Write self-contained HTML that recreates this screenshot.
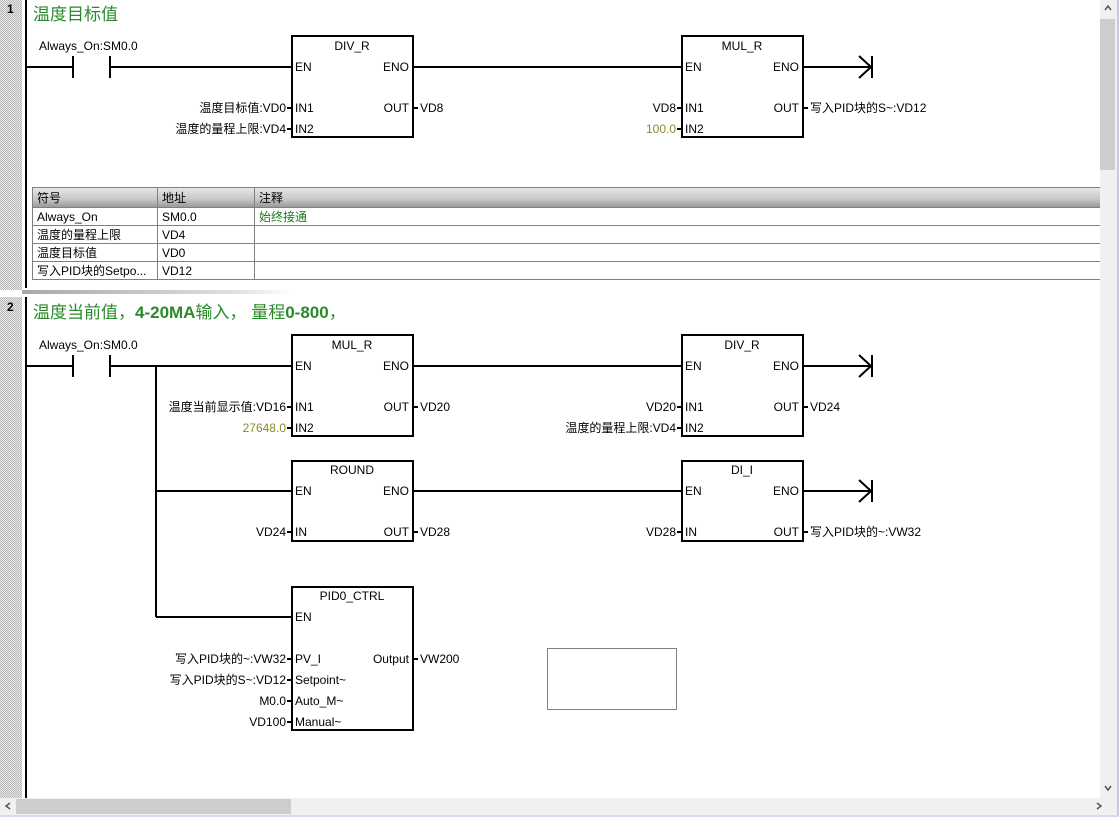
<!DOCTYPE html>
<html><head><meta charset="utf-8">
<style>
html,body{margin:0;padding:0;background:#fff;width:1119px;height:817px;overflow:hidden}
svg{display:block}
text{font-family:"Liberation Sans","Noto Sans CJK SC",sans-serif;font-size:12px;fill:#000}
.t{font-size:17px;fill:#2a8a2a}
.g{fill:#8a8a2a}
.c{fill:#1a7a1a}
.r{text-anchor:end}
.m{text-anchor:middle}
</style></head><body>
<svg width="1119" height="817" viewBox="0 0 1119 817" xmlns="http://www.w3.org/2000/svg">
<defs>
<pattern id="h" width="2" height="2" patternUnits="userSpaceOnUse"><rect width="2" height="2" fill="#e8e8e8"/><rect width="1" height="1" fill="#b8b8b8"/><rect x="1" y="1" width="1" height="1" fill="#b8b8b8"/></pattern>
<linearGradient id="hd" x1="0" y1="0" x2="0" y2="1"><stop offset="0" stop-color="#e8e8e8"/><stop offset="0.6" stop-color="#c8c8c8"/><stop offset="1" stop-color="#9a9a9a"/></linearGradient>
<linearGradient id="sep" x1="0" y1="0" x2="1" y2="0"><stop offset="0" stop-color="#a8a8a8"/><stop offset="0.8" stop-color="#e0e0e0"/><stop offset="1" stop-color="#fff"/></linearGradient>
</defs>
<!-- left strip -->
<rect x="0" y="0" width="22" height="800" fill="url(#h)"/>
<rect x="0" y="290" width="22" height="7" fill="#fff"/>
<rect x="22" y="290" width="270" height="4" fill="url(#sep)"/>
<text x="7" y="13" style="font-weight:bold">1</text>
<text x="7" y="311" style="font-weight:bold">2</text>
<!-- rails -->
<line x1="26" y1="0" x2="26" y2="288" stroke="#000" stroke-width="2"/>
<line x1="26" y1="297" x2="26" y2="798" stroke="#000" stroke-width="2"/>

<g stroke="#000" fill="none">
<!-- network 1 -->
<line x1="26" y1="67" x2="73" y2="67" stroke-width="2"/>
<line x1="73" y1="56" x2="73" y2="78" stroke-width="2"/>
<line x1="110" y1="56" x2="110" y2="78" stroke-width="2"/>
<line x1="110" y1="67" x2="292" y2="67" stroke-width="2"/>
<rect x="292" y="36" width="121" height="101" stroke-width="2"/>
<line x1="413" y1="67" x2="682" y2="67" stroke-width="2"/>
<rect x="682" y="36" width="121" height="101" stroke-width="2"/>
<line x1="803" y1="67" x2="872" y2="67" stroke-width="2"/>
<polyline points="859,56 871,67 859,78" stroke-width="2"/>
<line x1="872" y1="56" x2="872" y2="78" stroke-width="2"/>
<g stroke-width="2">
<line x1="287" y1="108" x2="292" y2="108"/><line x1="287" y1="129" x2="292" y2="129"/>
<line x1="413" y1="108" x2="418" y2="108"/>
<line x1="677" y1="108" x2="682" y2="108"/><line x1="677" y1="129" x2="682" y2="129"/>
<line x1="803" y1="108" x2="808" y2="108"/>
</g>
<!-- network 2 -->
<line x1="26" y1="366" x2="73" y2="366" stroke-width="2"/>
<line x1="73" y1="355" x2="73" y2="377" stroke-width="2"/>
<line x1="110" y1="355" x2="110" y2="377" stroke-width="2"/>
<line x1="110" y1="366" x2="292" y2="366" stroke-width="2"/>
<line x1="156" y1="366" x2="156" y2="617" stroke-width="2"/>
<line x1="156" y1="491" x2="292" y2="491" stroke-width="2"/>
<line x1="156" y1="617" x2="292" y2="617" stroke-width="2"/>
<rect x="292" y="335" width="121" height="101" stroke-width="2"/>
<rect x="682" y="335" width="121" height="101" stroke-width="2"/>
<rect x="292" y="461" width="121" height="80" stroke-width="2"/>
<rect x="682" y="461" width="121" height="80" stroke-width="2"/>
<rect x="292" y="587" width="121" height="143" stroke-width="2"/>
<line x1="413" y1="366" x2="682" y2="366" stroke-width="2"/>
<line x1="413" y1="491" x2="682" y2="491" stroke-width="2"/>
<line x1="803" y1="366" x2="872" y2="366" stroke-width="2"/>
<polyline points="859,355 871,366 859,377" stroke-width="2"/>
<line x1="872" y1="355" x2="872" y2="377" stroke-width="2"/>
<line x1="803" y1="491" x2="872" y2="491" stroke-width="2"/>
<polyline points="859,480 871,491 859,502" stroke-width="2"/>
<line x1="872" y1="480" x2="872" y2="502" stroke-width="2"/>
<g stroke-width="2">
<line x1="287" y1="407" x2="292" y2="407"/><line x1="287" y1="428" x2="292" y2="428"/>
<line x1="413" y1="407" x2="418" y2="407"/>
<line x1="677" y1="407" x2="682" y2="407"/><line x1="677" y1="428" x2="682" y2="428"/>
<line x1="803" y1="407" x2="808" y2="407"/>
<line x1="287" y1="532" x2="292" y2="532"/><line x1="413" y1="532" x2="418" y2="532"/>
<line x1="677" y1="532" x2="682" y2="532"/><line x1="803" y1="532" x2="808" y2="532"/>
<line x1="287" y1="659" x2="292" y2="659"/><line x1="287" y1="680" x2="292" y2="680"/>
<line x1="287" y1="701" x2="292" y2="701"/><line x1="287" y1="722" x2="292" y2="722"/>
<line x1="413" y1="659" x2="418" y2="659"/>
</g>
<rect x="547.5" y="648.5" width="129" height="61" stroke-width="1" stroke-dasharray="1,1"/>
</g>

<!-- titles -->
<text x="33" y="20" class="t">温度目标值</text>
<text x="33" y="318" class="t">温度当前值，<tspan style="font-weight:bold">4-20MA</tspan>输入， 量程<tspan style="font-weight:bold">0-800</tspan>，</text>

<!-- net1 labels -->
<text x="39" y="50">Always_On:SM0.0</text>
<text x="352" y="50" class="m">DIV_R</text>
<text x="295" y="71">EN</text><text x="409" y="71" class="r">ENO</text>
<text x="295" y="112">IN1</text><text x="295" y="133">IN2</text>
<text x="409" y="112" class="r">OUT</text>
<text x="286" y="112" class="r">温度目标值:VD0</text>
<text x="286" y="133" class="r">温度的量程上限:VD4</text>
<text x="420" y="112">VD8</text>
<text x="742" y="50" class="m">MUL_R</text>
<text x="685" y="71">EN</text><text x="799" y="71" class="r">ENO</text>
<text x="685" y="112">IN1</text><text x="685" y="133">IN2</text>
<text x="799" y="112" class="r">OUT</text>
<text x="676" y="112" class="r">VD8</text>
<text x="676" y="133" class="r g">100.0</text>
<text x="810" y="112">写入PID块的S~:VD12</text>

<!-- table -->
<rect x="32" y="187" width="1068" height="20" fill="url(#hd)"/>
<g stroke="#808080" stroke-width="1" fill="none">
<line x1="32" y1="187.5" x2="1100" y2="187.5"/>
<line x1="32" y1="207.5" x2="1100" y2="207.5"/>
<line x1="32" y1="225.5" x2="1100" y2="225.5"/>
<line x1="32" y1="243.5" x2="1100" y2="243.5"/>
<line x1="32" y1="261.5" x2="1100" y2="261.5"/>
<line x1="32" y1="279.5" x2="1100" y2="279.5"/>
<line x1="32.5" y1="187" x2="32.5" y2="279"/>
<line x1="157.5" y1="187" x2="157.5" y2="279"/>
<line x1="254.5" y1="187" x2="254.5" y2="279"/>
</g>
<text x="37" y="202">符号</text><text x="162" y="202">地址</text><text x="259" y="202">注释</text>
<text x="37" y="221">Always_On</text><text x="162" y="221">SM0.0</text><text x="259" y="221" class="c">始终接通</text>
<text x="37" y="239">温度的量程上限</text><text x="162" y="239">VD4</text>
<text x="37" y="257">温度目标值</text><text x="162" y="257">VD0</text>
<text x="37" y="275">写入PID块的Setpo...</text><text x="162" y="275">VD12</text>

<!-- net2 labels -->
<text x="39" y="349">Always_On:SM0.0</text>
<text x="352" y="349" class="m">MUL_R</text>
<text x="295" y="370">EN</text><text x="409" y="370" class="r">ENO</text>
<text x="295" y="411">IN1</text><text x="295" y="432">IN2</text>
<text x="409" y="411" class="r">OUT</text>
<text x="286" y="411" class="r">温度当前显示值:VD16</text>
<text x="286" y="432" class="r g">27648.0</text>
<text x="420" y="411">VD20</text>
<text x="742" y="349" class="m">DIV_R</text>
<text x="685" y="370">EN</text><text x="799" y="370" class="r">ENO</text>
<text x="685" y="411">IN1</text><text x="685" y="432">IN2</text>
<text x="799" y="411" class="r">OUT</text>
<text x="676" y="411" class="r">VD20</text>
<text x="676" y="432" class="r">温度的量程上限:VD4</text>
<text x="810" y="411">VD24</text>

<text x="352" y="474" class="m">ROUND</text>
<text x="295" y="495">EN</text><text x="409" y="495" class="r">ENO</text>
<text x="295" y="536">IN</text><text x="409" y="536" class="r">OUT</text>
<text x="286" y="536" class="r">VD24</text><text x="420" y="536">VD28</text>
<text x="742" y="474" class="m">DI_I</text>
<text x="685" y="495">EN</text><text x="799" y="495" class="r">ENO</text>
<text x="685" y="536">IN</text><text x="799" y="536" class="r">OUT</text>
<text x="676" y="536" class="r">VD28</text><text x="810" y="536">写入PID块的~:VW32</text>

<text x="352" y="600" class="m">PID0_CTRL</text>
<text x="295" y="621">EN</text>
<text x="295" y="663">PV_I</text>
<text x="295" y="684">Setpoint~</text>
<text x="295" y="705">Auto_M~</text>
<text x="295" y="726">Manual~</text>
<text x="409" y="663" class="r">Output</text>
<text x="420" y="663">VW200</text>
<text x="286" y="663" class="r">写入PID块的~:VW32</text>
<text x="286" y="684" class="r">写入PID块的S~:VD12</text>
<text x="286" y="705" class="r">M0.0</text>
<text x="286" y="726" class="r">VD100</text>

<!-- scrollbars -->
<rect x="1100" y="0" width="19" height="799" fill="#f0f0f0"/>
<rect x="1100" y="19" width="15" height="151" fill="#cdcdcd"/>
<polyline points="1105,10 1108,6 1111,10" fill="none" stroke="#555" stroke-width="1.5"/>
<polyline points="1105,786 1108,790 1111,786" fill="none" stroke="#555" stroke-width="1.5"/>
<rect x="0" y="798" width="1119" height="19" fill="#f0f0f0"/>
<rect x="16" y="799" width="275" height="15" fill="#cdcdcd"/>
<polyline points="10,803 6,806 10,809" fill="none" stroke="#555" stroke-width="1.5"/>
<polyline points="1097,803 1101,806 1097,809" fill="none" stroke="#555" stroke-width="1.5"/>
<rect x="1117" y="0" width="2" height="817" fill="#c8c8e0"/>
<rect x="0" y="815" width="1119" height="2" fill="#d8d8ee"/>
</svg>
</body></html>
